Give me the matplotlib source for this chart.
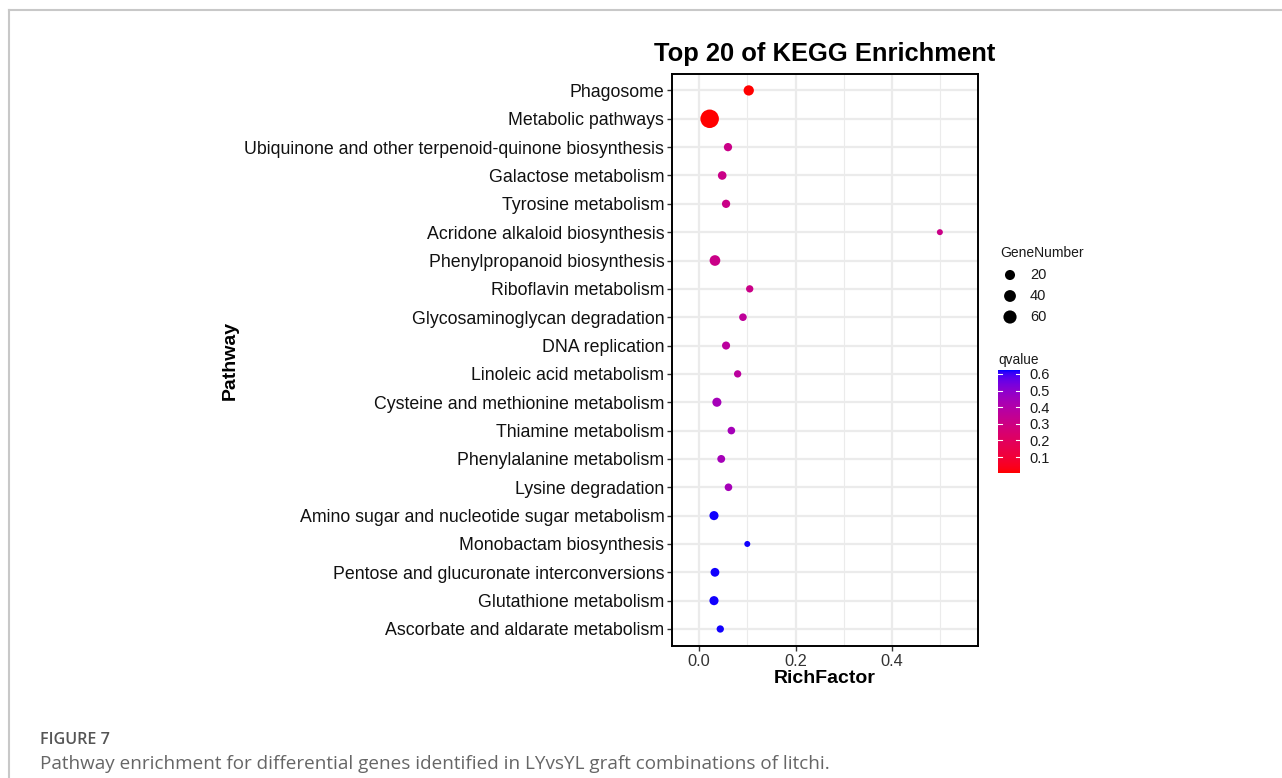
import numpy as np
import matplotlib
matplotlib.use("Agg")
import matplotlib.pyplot as plt
from matplotlib.colors import ListedColormap, Normalize
from matplotlib.lines import Line2D

# data, top row first
pathways = [
    "Phagosome",
    "Metabolic pathways",
    "Ubiquinone and other terpenoid-quinone biosynthesis",
    "Galactose metabolism",
    "Tyrosine metabolism",
    "Acridone alkaloid biosynthesis",
    "Phenylpropanoid biosynthesis",
    "Riboflavin metabolism",
    "Glycosaminoglycan degradation",
    "DNA replication",
    "Linoleic acid metabolism",
    "Cysteine and methionine metabolism",
    "Thiamine metabolism",
    "Phenylalanine metabolism",
    "Lysine degradation",
    "Amino sugar and nucleotide sugar metabolism",
    "Monobactam biosynthesis",
    "Pentose and glucuronate interconversions",
    "Glutathione metabolism",
    "Ascorbate and aldarate metabolism",
]
rich_factor = [0.103, 0.022, 0.060, 0.048, 0.056, 0.499, 0.033, 0.105, 0.091, 0.056,
               0.080, 0.037, 0.067, 0.046, 0.061, 0.031, 0.100, 0.033, 0.031, 0.044]
gene_number = [22, 180, 7, 9, 7, 1, 26, 3, 4, 6,
               3, 12, 4, 5, 4, 12, 1, 10, 12, 3]
qvalue = [0.006, 0.006, 0.31, 0.31, 0.31, 0.31, 0.31, 0.31, 0.36, 0.37,
          0.37, 0.44, 0.44, 0.44, 0.44, 0.62, 0.62, 0.62, 0.62, 0.62]
size_breaks = [20, 40, 60]
q_ticks = [0.1, 0.2, 0.3, 0.4, 0.5, 0.6]

W, H = 1282, 778
DPI = 100


# ggplot style red -> blue gradient, interpolated in Lab space
def srgb_to_lab(rgb):
    rgb = np.asarray(rgb, float)
    lin = np.where(rgb <= 0.04045, rgb / 12.92, ((rgb + 0.055) / 1.055) ** 2.4)
    m = np.array([[0.4124, 0.3576, 0.1805],
                  [0.2126, 0.7152, 0.0722],
                  [0.0193, 0.1192, 0.9505]])
    xyz = m @ lin / np.array([0.95047, 1.0, 1.08883])
    f = np.where(xyz > 0.008856, np.cbrt(xyz), 7.787 * xyz + 16 / 116)
    return np.array([116 * f[1] - 16, 500 * (f[0] - f[1]), 200 * (f[1] - f[2])])


def lab_to_srgb(lab):
    L, a, b = lab
    fy = (L + 16) / 116
    fx = fy + a / 500
    fz = fy - b / 200
    f = np.array([fx, fy, fz])
    xyz = np.where(f ** 3 > 0.008856, f ** 3, (f - 16 / 116) / 7.787)
    xyz = xyz * np.array([0.95047, 1.0, 1.08883])
    m = np.array([[3.2406, -1.5372, -0.4986],
                  [-0.9689, 1.8758, 0.0415],
                  [0.0557, -0.2040, 1.0570]])
    lin = m @ xyz
    rgb = np.where(lin <= 0.0031308, 12.92 * lin, 1.055 * np.clip(lin, 0, None) ** (1 / 2.4) - 0.055)
    return np.clip(rgb, 0, 1)


lab_lo = srgb_to_lab([1, 0, 0])
lab_hi = srgb_to_lab([0, 0, 1])
cmap = ListedColormap([lab_to_srgb(lab_lo + t * (lab_hi - lab_lo)) for t in np.linspace(0, 1, 256)])
q_min, q_max = 0.004, 0.624
norm = Normalize(q_min, q_max)

n_max = max(gene_number)


def marker_area(n):
    d_px = 6 + 12.5 * np.sqrt((np.asarray(n, float) - 1) / (n_max - 1))
    return (d_px * 72 / DPI) ** 2


def px(x, y):
    return x / W, 1 - y / H


plt.rcParams['font.family'] = ['Liberation Sans', 'DejaVu Sans']

fig = plt.figure(figsize=(W / DPI, H / DPI), dpi=DPI)

# main panel
x0, y0 = px(672, 646)
x1, y1 = px(978, 74)
ax = fig.add_axes([x0, y0, x1 - x0, y1 - y0])

ypos = np.arange(len(pathways))[::-1]
ax.scatter(rich_factor, ypos, s=marker_area(gene_number), c=qvalue, cmap=cmap, norm=norm,
           linewidths=0, zorder=3)

ax.set_xlim(-0.056, 0.578)
ax.set_ylim(-0.6, len(pathways) - 0.42)
ax.set_yticks(ypos)
ax.set_yticklabels(pathways, fontsize=12.8, color='#111111')
ax.set_xticks([0.0, 0.2, 0.4])
ax.set_xticklabels(["0.0", "0.2", "0.4"], fontsize=11.8, color='#333333')
ax.set_xticks([0.1, 0.3, 0.5], minor=True)
ax.tick_params(axis='both', which='major', length=3.5, width=1, color='#333333', pad=2)
ax.tick_params(axis='x', which='minor', length=0)
ax.grid(True, which='major', color='#EBEBEB', linewidth=1.6, zorder=0)
ax.grid(True, which='minor', axis='x', color='#EBEBEB', linewidth=0.8, zorder=0)
ax.set_axisbelow(True)
for sp in ax.spines.values():
    sp.set_linewidth(1.4)
    sp.set_color('black')

ax.set_xlabel("RichFactor", fontsize=14, fontweight='bold', labelpad=1)
ax.set_ylabel("Pathway", fontsize=14, fontweight='bold', labelpad=0)
ax.yaxis.set_label_coords((239 - 672) / (978 - 672), 0.5)
ax.set_title("Top 20 of KEGG Enrichment", fontsize=18.4, fontweight='bold', pad=9)

# overlay in pixel coordinates for legend, frame and caption
ov = fig.add_axes([0, 0, 1, 1], facecolor='none')
ov.set_xlim(0, W)
ov.set_ylim(H, 0)
ov.axis('off')

# page frame
ov.add_line(Line2D([9, W], [9.5, 9.5], color='#c8c8c8', linewidth=1.5))
ov.add_line(Line2D([9, 9], [9.5, H], color='#c8c8c8', linewidth=1.5))

# size legend
ov.text(1000, 253, "GeneNumber", fontsize=10, va='center', ha='left', color='#1a1a1a')
leg_y = [275, 296, 317]
ov.scatter([1010] * 3, leg_y, s=marker_area(size_breaks), color='black', linewidths=0)
for yy, lab in zip(leg_y, size_breaks):
    ov.text(1030, yy, str(lab), fontsize=10.5, va='center', ha='left', color='#1a1a1a')

# colour legend
ov.text(998, 360, "qvalue", fontsize=9.8, va='center', ha='left', color='#1a1a1a')
cx0, cy0 = px(998, 473)
cx1, cy1 = px(1020, 370)
cax = fig.add_axes([cx0, cy0, cx1 - cx0, cy1 - cy0])
grad = np.linspace(q_min, q_max, 200).reshape(-1, 1)
cax.imshow(grad, aspect='auto', cmap=cmap, norm=norm, origin='lower',
           extent=[0, 1, q_min, q_max])
cax.set_xlim(0, 1)
cax.set_ylim(q_min, q_max)
for t in q_ticks:
    cax.plot([0, 0.2], [t, t], color='white', linewidth=0.8)
    cax.plot([0.8, 1], [t, t], color='white', linewidth=0.8)
cax.set_xticks([])
cax.yaxis.tick_right()
cax.set_yticks(q_ticks)
cax.set_yticklabels([f"{t:.1f}" for t in q_ticks], fontsize=10.5, color='#1a1a1a')
cax.tick_params(axis='y', length=0, pad=7)
for sp in cax.spines.values():
    sp.set_visible(False)

# caption
fig.text(40 / W, 1 - 740 / H, "FIGURE 7", fontsize=11.6, color='#555555', va='center',
         ha='left', family=['Open Sans', 'DejaVu Sans'], fontweight='semibold')
fig.text(40 / W, 1 - 764 / H,
         "Pathway enrichment for differential genes identified in LYvsYL graft combinations of litchi.",
         fontsize=13.6, color='#666666', va='center', ha='left', family=['Open Sans', 'DejaVu Sans'])

fig.savefig("out.png", dpi=DPI)
